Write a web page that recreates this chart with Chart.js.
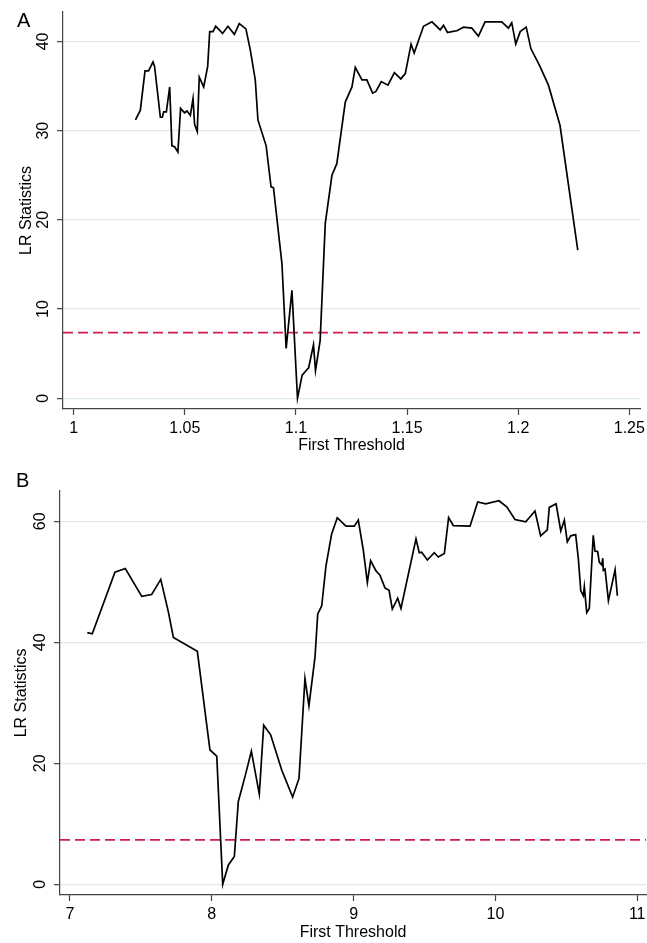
<!DOCTYPE html>
<html>
<head>
<meta charset="utf-8">
<title>LR statistics vs first threshold</title>
<script src="https://cdn.jsdelivr.net/npm/chart.js@4.4.1/dist/chart.umd.min.js"></script>
<style>
  html, body { margin:0; padding:0; background:#fff; }
  body { width:647px; height:943px; position:relative; overflow:hidden; font-family:'Liberation Sans', Arial, sans-serif; }
  canvas { position:absolute; left:0; }
  #chartA { top:0; }
  #chartB { top:460px; }
  .panel-tag { position:absolute; font-size:20px; line-height:20px; color:#000; }
</style>
</head>
<body>
<canvas id="chartA" width="647" height="460"></canvas>
<canvas id="chartB" width="647" height="483"></canvas>
<div class="panel-tag" style="left:17px;top:10px">A</div>
<div class="panel-tag" style="left:16px;top:470px">B</div>
<script>
// ── Panel A: LR over first threshold ──
const thresholdA = [1.0278, 1.0300, 1.0321, 1.0337, 1.0357, 1.0364, 1.0390, 1.0399, 1.0405, 1.0417,
  1.0432, 1.0442, 1.0454, 1.0469, 1.0481, 1.0499, 1.0510, 1.0525, 1.0537, 1.0544,
  1.0556, 1.0565, 1.0585, 1.0603, 1.0612, 1.0627, 1.0639, 1.0670, 1.0694, 1.0723,
  1.0745, 1.0775, 1.0795, 1.0817, 1.0829, 1.0866, 1.0888, 1.0899, 1.0937, 1.0956,
  1.0982, 1.1007, 1.1028, 1.1049, 1.1057, 1.1079, 1.1088, 1.1109, 1.1132, 1.1162,
  1.1184, 1.1222, 1.1252, 1.1267, 1.1297, 1.1319, 1.1345, 1.1360, 1.1384, 1.1414,
  1.1443, 1.1472, 1.1492, 1.1518, 1.1532, 1.1574, 1.1612, 1.1649, 1.1664, 1.1682,
  1.1701, 1.1724, 1.1754, 1.1791, 1.1821, 1.1851, 1.1889, 1.1926, 1.1956, 1.1971,
  1.1989, 1.2009, 1.2036, 1.2057, 1.2098, 1.2136, 1.2188, 1.2268];
const lrA = [31.2, 32.3, 36.7, 36.7, 37.7, 37.2, 31.5, 31.5, 32.1, 32.1,
  34.9, 28.3, 28.2, 27.6, 32.5, 32.0, 32.2, 31.7, 33.6, 30.7,
  29.9, 36.0, 34.9, 37.2, 41.1, 41.1, 41.7, 40.9, 41.7, 40.8,
  42.0, 41.4, 39.0, 35.7, 31.2, 28.3, 23.7, 23.6, 15.1, 5.6,
  12.1, 0.0, 2.6, 3.2, 3.4, 6.0, 3.1, 6.5, 19.6, 25.0,
  26.3, 33.2, 34.9, 37.1, 35.7, 35.7, 34.2, 34.4, 35.5, 35.1,
  36.5, 35.8, 36.4, 39.7, 38.7, 41.7, 42.2, 41.3, 41.8, 41.0,
  41.1, 41.2, 41.6, 41.5, 40.6, 42.2, 42.2, 42.2, 41.5, 42.1,
  39.7, 41.1, 41.6, 39.2, 37.2, 35.1, 30.6, 16.6];
const xTicksA = [1, 1.05, 1.1, 1.15, 1.2, 1.25];
const yTicksA = [0, 10, 20, 30, 40];

// ── Panel B ──
const thresholdB = [7.122, 7.157, 7.317, 7.390, 7.506, 7.576, 7.640, 7.693, 7.729, 7.898,
  7.987, 8.035, 8.077, 8.117, 8.159, 8.187, 8.234, 8.279, 8.335, 8.366,
  8.415, 8.493, 8.570, 8.615, 8.657, 8.685, 8.728, 8.747, 8.775, 8.805,
  8.845, 8.885, 8.946, 9.005, 9.033, 9.068, 9.097, 9.120, 9.158, 9.186,
  9.221, 9.250, 9.273, 9.311, 9.334, 9.440, 9.463, 9.480, 9.520, 9.569,
  9.597, 9.640, 9.670, 9.703, 9.821, 9.875, 9.932, 10.025, 10.080, 10.138,
  10.214, 10.279, 10.319, 10.366, 10.380, 10.428, 10.461, 10.486, 10.507, 10.531,
  10.566, 10.585, 10.602, 10.620, 10.627, 10.644, 10.662, 10.690, 10.702, 10.721,
  10.733, 10.750, 10.757, 10.761, 10.773, 10.797, 10.844, 10.860];
const lrB = [41.6, 41.4, 51.6, 52.2, 47.6, 47.9, 50.4, 45.1, 40.8, 38.5,
  22.2, 21.2, 0.0, 3.2, 4.6, 13.7, 17.8, 22.0, 14.9, 26.3,
  24.7, 18.9, 14.4, 17.5, 34.0, 29.5, 37.6, 44.7, 46.0, 52.6,
  57.9, 60.6, 59.2, 59.2, 60.2, 55.3, 49.9, 53.5, 51.8, 51.1,
  49.0, 48.6, 45.5, 47.3, 45.6, 57.1, 54.8, 54.9, 53.6, 54.8,
  54.1, 54.7, 60.6, 59.3, 59.2, 63.2, 62.9, 63.4, 62.4, 60.3,
  59.9, 61.7, 57.6, 58.6, 62.3, 62.9, 58.4, 60.2, 56.6, 57.6,
  57.8, 53.8, 48.5, 47.7, 49.2, 44.9, 45.6, 57.7, 55.1, 55.0,
  53.2, 52.8, 53.9, 51.9, 52.1, 46.9, 52.0, 47.7];
const xTicksB = [7, 8, 9, 10, 11];
const yTicksB = [0, 20, 40, 60];

const critValue = 7.35; // 5% critical value

const FONT = { family: "'Liberation Sans', Arial, sans-serif", size: 16 };
const AXIS = '#444', GRID = '#e0eaec';

function drawPanel(id, xs, ys, ax) {
  const pts = xs.map((x, i) => ({ x, y: ys[i] }));
  const crit = [{ x: ax.xMin, y: critValue }, { x: ax.xMax, y: critValue }];
  return new Chart(document.getElementById(id), {
    type: 'scatter',
    data: {
      datasets: [
        { data: pts, showLine: true, borderColor: '#000', borderWidth: 1.7, pointRadius: 0, tension: 0 },
        { data: crit, showLine: true, borderColor: '#d11d4c', borderWidth: 1.7, borderDash: [10, 5], pointRadius: 0 }
      ]
    },
    options: {
      responsive: false, animation: false, devicePixelRatio: 1,
      layout: { padding: ax.pad },
      plugins: { legend: { display: false }, tooltip: { enabled: false } },
      scales: {
        x: {
          type: 'linear', min: ax.xMin, max: ax.xMax,
          afterBuildTicks: s => { s.ticks = ax.xTicks.map(v => ({ value: v })); },
          afterFit: s => { s.height = ax.xAxisH; s.paddingLeft = 0; s.paddingRight = 0; },
          ticks: { font: FONT, color: '#000', padding: 4.4, maxRotation: 0, autoSkip: false, callback: v => String(+v.toFixed(2)) },
          grid: { drawOnChartArea: false, drawTicks: true, tickLength: 6, tickColor: AXIS, tickWidth: 1.2 },
          border: { display: true, color: AXIS, width: 1.2 },
          title: { display: true, text: 'First Threshold', font: FONT, color: '#000', padding: { top: 0, bottom: ax.xTitlePad } }
        },
        y: {
          type: 'linear', min: ax.yMin, max: ax.yMax,
          afterBuildTicks: s => { s.ticks = ax.yTicks.map(v => ({ value: v })); },
          afterFit: s => { s.width = ax.yAxisW; s.paddingTop = 0; s.paddingBottom = 0; },
          ticks: { font: FONT, color: '#000', padding: ax.yTickPad, minRotation: 90, maxRotation: 90, crossAlign: 'center', autoSkip: false },
          grid: { color: GRID, lineWidth: 1.3, drawTicks: true, tickLength: 6, tickColor: AXIS, tickWidth: 1.2 },
          border: { display: true, color: AXIS, width: 1.2 },
          title: { display: true, text: 'LR Statistics', font: FONT, color: '#000', padding: { top: ax.yTitlePad, bottom: 0 } }
        }
      }
    }
  });
}

drawPanel('chartA', thresholdA, lrA, {
  xMin: 0.9952, xMax: 1.2548, yMin: -1.2, yMax: 43.3, xTicks: xTicksA, yTicks: yTicksA,
  pad: { top: 12, right: 7, left: 0, bottom: 0 }, yAxisW: 63, xAxisH: 51,
  yTickPad: 4.6, yTitlePad: 17.4, xTitlePad: 4.9
});

drawPanel('chartB', thresholdB, lrB, {
  xMin: 6.9295, xMax: 11.062, yMin: -1.77, yMax: 65.06, xTicks: xTicksB, yTicks: yTicksB,
  pad: { top: 30.7, right: 1, left: 0, bottom: 0 }, yAxisW: 60, xAxisH: 48,
  yTickPad: 4.1, yTitlePad: 12.4, xTitlePad: 0.4
});
</script>
</body>
</html>
